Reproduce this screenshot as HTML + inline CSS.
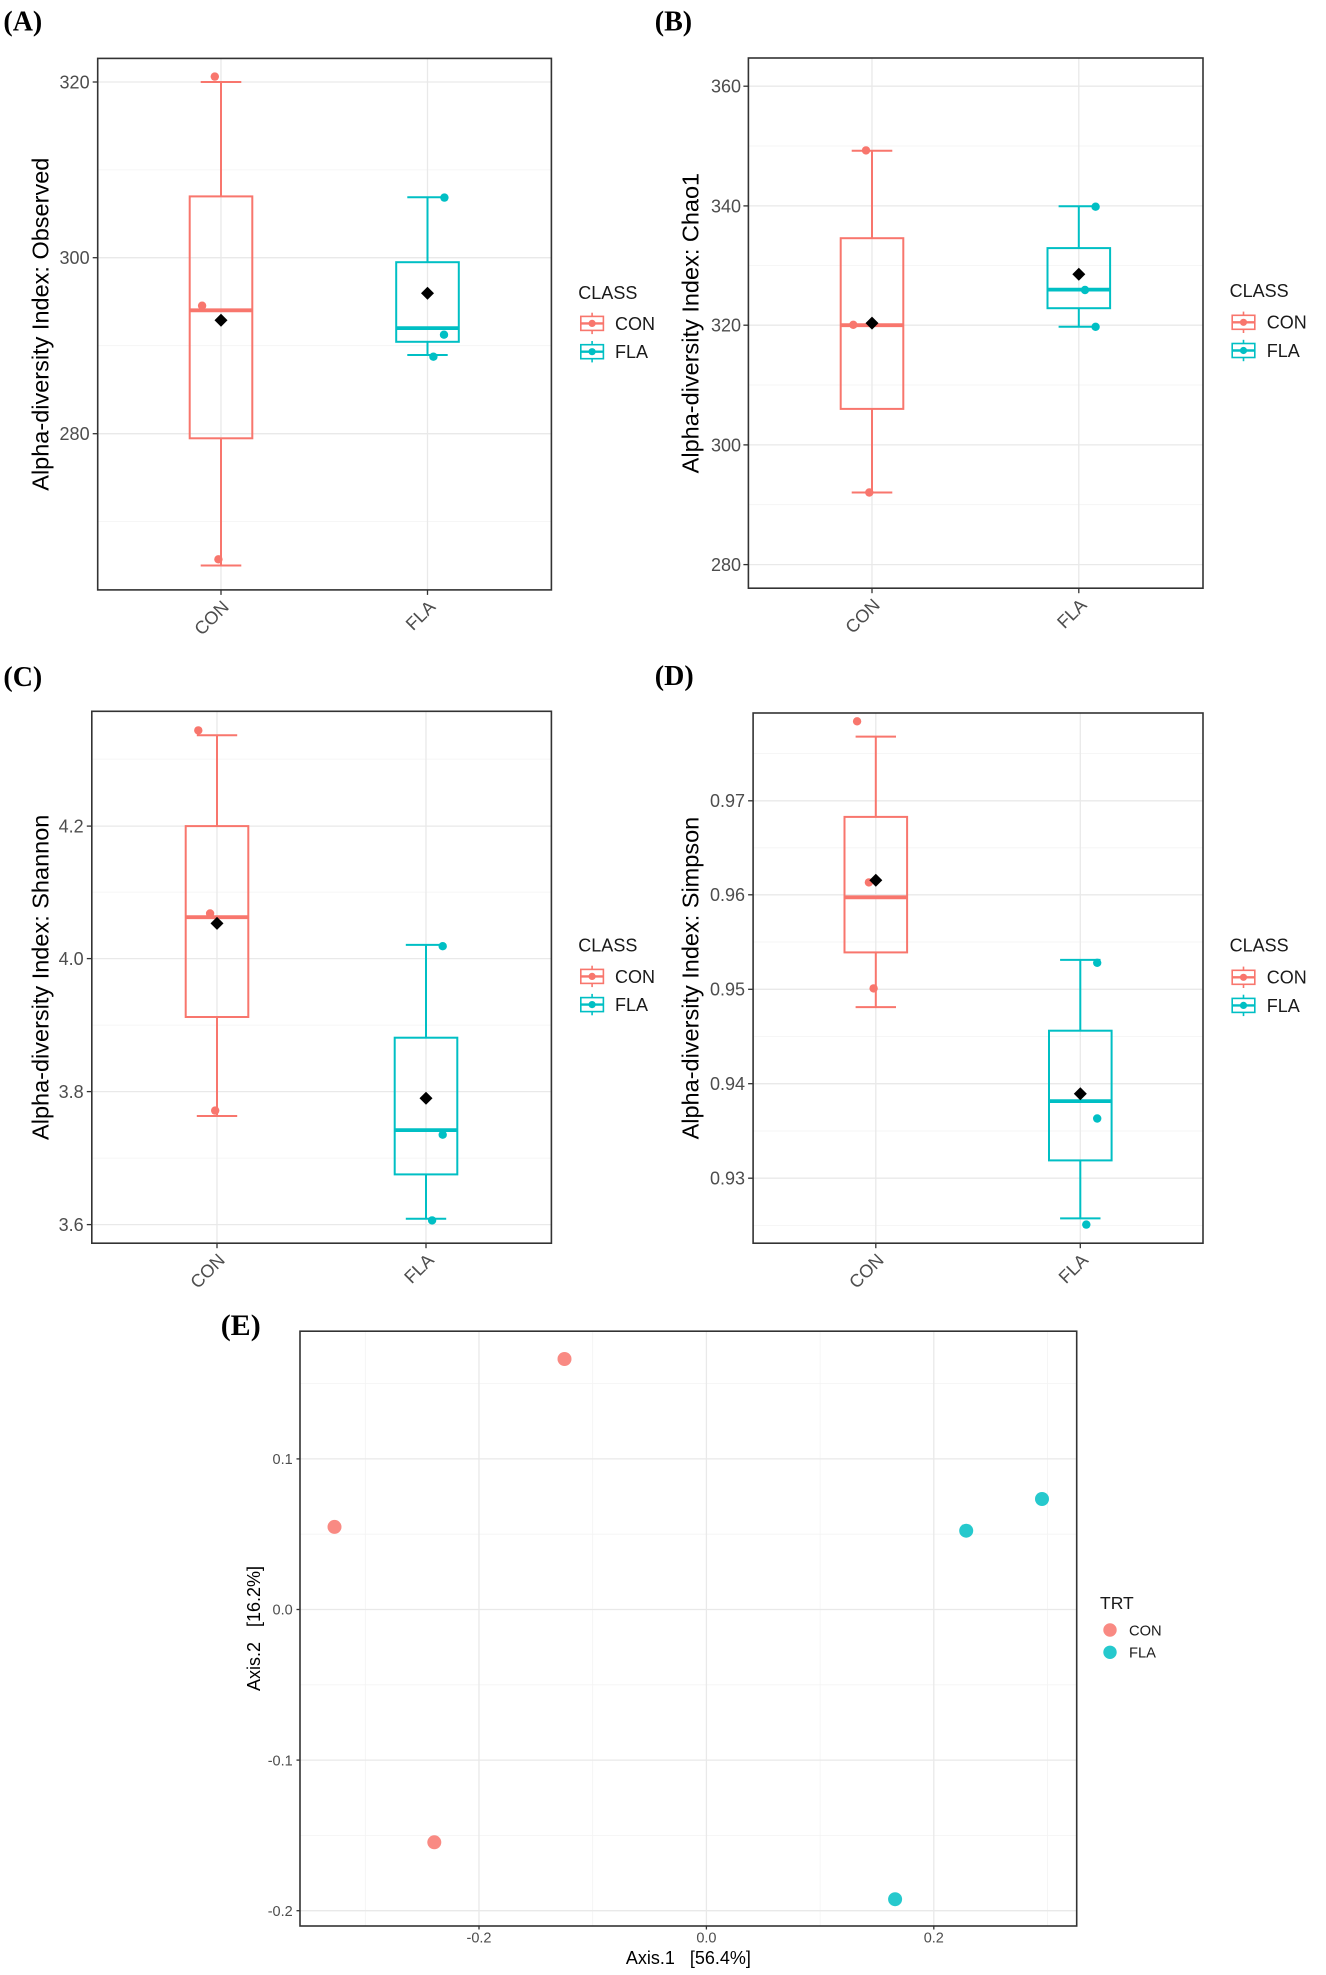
<!DOCTYPE html>
<html><head><meta charset="utf-8">
<style>
html,body{margin:0;padding:0;background:#fff;}
svg{display:block;}
text{font-family:"Liberation Sans",Arial,sans-serif;}
.lab{font-family:"Liberation Serif","Times New Roman",serif;font-weight:bold;font-size:28px;fill:#000;}
.tk{font-size:18px;fill:#4d4d4d;}
.tt{font-size:23.5px;fill:#000;}
.lg{font-size:18px;fill:#1a1a1a;}
.gmaj{stroke:#e9e9e9;stroke-width:1.3;}
.gmin{stroke:#f3f3f3;stroke-width:0.8;}
.bd{fill:none;stroke:#333;stroke-width:1.6;}
.tick{stroke:#333;stroke-width:1.3;}
.con{stroke:#F8766D;fill:none;stroke-width:2;}
.fla{stroke:#00BFC4;fill:none;stroke-width:2;}
.med{stroke-width:3.8;}
.tke{font-size:14.5px;fill:#4d4d4d;}
.tte{font-size:18px;fill:#000;white-space:pre;}
</style></head>
<body>
<svg width="1326" height="1975" viewBox="0 0 1326 1975" xmlns="http://www.w3.org/2000/svg">
<rect width="1326" height="1975" fill="#fff"/>

<!-- ================= PANEL A ================= -->
<text class="lab" x="3.4" y="30.5">(A)</text>
<g>
<line class="gmin" x1="97.7" x2="551.4" y1="169.85" y2="169.85"/>
<line class="gmin" x1="97.7" x2="551.4" y1="345.7" y2="345.7"/>
<line class="gmin" x1="97.7" x2="551.4" y1="521.6" y2="521.6"/>
<line class="gmaj" x1="97.7" x2="551.4" y1="82" y2="82"/>
<line class="gmaj" x1="97.7" x2="551.4" y1="257.7" y2="257.7"/>
<line class="gmaj" x1="97.7" x2="551.4" y1="433.7" y2="433.7"/>
<line class="gmaj" x1="221" x2="221" y1="58.4" y2="589.9"/>
<line class="gmaj" x1="427.5" x2="427.5" y1="58.4" y2="589.9"/>
<!-- CON -->
<line class="con" x1="221" x2="221" y1="82" y2="196.4"/>
<line class="con" x1="221" x2="221" y1="438.3" y2="565.5"/>
<line class="con" x1="200.7" x2="241.3" y1="82" y2="82"/>
<line class="con" x1="200.7" x2="241.3" y1="565.5" y2="565.5"/>
<rect class="con" x="189.7" y="196.4" width="62.6" height="241.9"/>
<line class="con med" x1="189.7" x2="252.3" y1="310.3" y2="310.3"/>
<circle cx="214.8" cy="76.6" r="4.2" fill="#F8766D"/>
<circle cx="202.1" cy="305.7" r="4.2" fill="#F8766D"/>
<circle cx="218.4" cy="559.3" r="4.2" fill="#F8766D"/>
<polygon points="221,313.7 227.5,320.2 221,326.7 214.5,320.2" fill="#000"/>
<!-- FLA -->
<line class="fla" x1="427.5" x2="427.5" y1="197.2" y2="262.2"/>
<line class="fla" x1="427.5" x2="427.5" y1="341.8" y2="355"/>
<line class="fla" x1="407.3" x2="447.7" y1="197.2" y2="197.2"/>
<line class="fla" x1="407.3" x2="447.7" y1="355" y2="355"/>
<rect class="fla" x="396.2" y="262.2" width="62.6" height="79.6"/>
<line class="fla med" x1="396.2" x2="458.8" y1="328.1" y2="328.1"/>
<circle cx="444.4" cy="197.6" r="4.2" fill="#00BFC4"/>
<circle cx="444" cy="334.7" r="4.2" fill="#00BFC4"/>
<circle cx="433.4" cy="356.7" r="4.2" fill="#00BFC4"/>
<polygon points="427.5,286.8 434,293.3 427.5,299.8 421,293.3" fill="#000"/>
<rect class="bd" x="97.7" y="58.4" width="453.7" height="531.5"/>
<line class="tick" x1="92.7" x2="97.7" y1="82" y2="82"/>
<line class="tick" x1="92.7" x2="97.7" y1="257.7" y2="257.7"/>
<line class="tick" x1="92.7" x2="97.7" y1="433.7" y2="433.7"/>
<line class="tick" x1="221" x2="221" y1="589.9" y2="594.9"/>
<line class="tick" x1="427.5" x2="427.5" y1="589.9" y2="594.9"/>
<text class="tk" x="89.6" y="88.4" text-anchor="end">320</text>
<text class="tk" x="89.6" y="264.1" text-anchor="end">300</text>
<text class="tk" x="89.6" y="440.1" text-anchor="end">280</text>
<text class="tk" text-anchor="end" transform="translate(230,608) rotate(-45)">CON</text>
<text class="tk" text-anchor="end" transform="translate(436.5,608) rotate(-45)">FLA</text>
<text class="tt" text-anchor="middle" transform="translate(48.3,324.2) rotate(-90)">Alpha-diversity Index: Observed</text>
<!-- legend -->
<text class="lg" x="578.3" y="299.1">CLASS</text>
<g>
<line x1="592.1" x2="592.1" y1="312.7" y2="334.1" stroke="#F8766D" stroke-width="1.6"/>
<rect x="580.8" y="316.4" width="22.6" height="14" fill="#fff" stroke="#F8766D" stroke-width="1.6"/>
<line x1="580.8" x2="603.4" y1="323.4" y2="323.4" stroke="#F8766D" stroke-width="2.4"/>
<circle cx="592.1" cy="323.4" r="3.6" fill="#F8766D"/>
</g>
<text class="lg" x="615" y="329.8">CON</text>
<g>
<line x1="592.1" x2="592.1" y1="341" y2="362.4" stroke="#00BFC4" stroke-width="1.6"/>
<rect x="580.8" y="344.7" width="22.6" height="14" fill="#fff" stroke="#00BFC4" stroke-width="1.6"/>
<line x1="580.8" x2="603.4" y1="351.7" y2="351.7" stroke="#00BFC4" stroke-width="2.4"/>
<circle cx="592.1" cy="351.7" r="3.6" fill="#00BFC4"/>
</g>
<text class="lg" x="615" y="358.1">FLA</text>
</g>

<!-- ================= PANEL B ================= -->
<text class="lab" x="654.8" y="30.5">(B)</text>
<g>
<line class="gmin" x1="748.4" x2="1203" y1="146" y2="146"/>
<line class="gmin" x1="748.4" x2="1203" y1="265.5" y2="265.5"/>
<line class="gmin" x1="748.4" x2="1203" y1="385" y2="385"/>
<line class="gmin" x1="748.4" x2="1203" y1="504.7" y2="504.7"/>
<line class="gmaj" x1="748.4" x2="1203" y1="86.2" y2="86.2"/>
<line class="gmaj" x1="748.4" x2="1203" y1="205.9" y2="205.9"/>
<line class="gmaj" x1="748.4" x2="1203" y1="325.2" y2="325.2"/>
<line class="gmaj" x1="748.4" x2="1203" y1="444.9" y2="444.9"/>
<line class="gmaj" x1="748.4" x2="1203" y1="564.6" y2="564.6"/>
<line class="gmaj" x1="872" x2="872" y1="58" y2="588.2"/>
<line class="gmaj" x1="1078.8" x2="1078.8" y1="58" y2="588.2"/>
<!-- CON -->
<line class="con" x1="872" x2="872" y1="150.8" y2="238.2"/>
<line class="con" x1="872" x2="872" y1="408.9" y2="492.5"/>
<line class="con" x1="851.7" x2="892.3" y1="150.8" y2="150.8"/>
<line class="con" x1="851.7" x2="892.3" y1="492.5" y2="492.5"/>
<rect class="con" x="840.7" y="238.2" width="62.6" height="170.7"/>
<line class="con med" x1="840.7" x2="903.3" y1="325.2" y2="325.2"/>
<circle cx="866" cy="150.4" r="4.2" fill="#F8766D"/>
<circle cx="853.3" cy="324.8" r="4.2" fill="#F8766D"/>
<circle cx="869.3" cy="492.5" r="4.2" fill="#F8766D"/>
<polygon points="872,316.6 878.5,323.1 872,329.6 865.5,323.1" fill="#000"/>
<!-- FLA -->
<line class="fla" x1="1078.8" x2="1078.8" y1="206.3" y2="248.1"/>
<line class="fla" x1="1078.8" x2="1078.8" y1="308.2" y2="326.8"/>
<line class="fla" x1="1058.6" x2="1099" y1="206.3" y2="206.3"/>
<line class="fla" x1="1058.6" x2="1099" y1="326.8" y2="326.8"/>
<rect class="fla" x="1047.5" y="248.1" width="62.6" height="60.1"/>
<line class="fla med" x1="1047.5" x2="1110.1" y1="289.6" y2="289.6"/>
<circle cx="1095.6" cy="206.7" r="4.2" fill="#00BFC4"/>
<circle cx="1085" cy="290" r="4.2" fill="#00BFC4"/>
<circle cx="1095.6" cy="326.8" r="4.2" fill="#00BFC4"/>
<polygon points="1078.8,267.7 1085.3,274.2 1078.8,280.7 1072.3,274.2" fill="#000"/>
<rect class="bd" x="748.4" y="58" width="454.6" height="530.2"/>
<line class="tick" x1="743.4" x2="748.4" y1="86.2" y2="86.2"/>
<line class="tick" x1="743.4" x2="748.4" y1="205.9" y2="205.9"/>
<line class="tick" x1="743.4" x2="748.4" y1="325.2" y2="325.2"/>
<line class="tick" x1="743.4" x2="748.4" y1="444.9" y2="444.9"/>
<line class="tick" x1="743.4" x2="748.4" y1="564.6" y2="564.6"/>
<line class="tick" x1="872" x2="872" y1="588.2" y2="593.2"/>
<line class="tick" x1="1078.8" x2="1078.8" y1="588.2" y2="593.2"/>
<text class="tk" x="741" y="92.6" text-anchor="end">360</text>
<text class="tk" x="741" y="212.3" text-anchor="end">340</text>
<text class="tk" x="741" y="331.6" text-anchor="end">320</text>
<text class="tk" x="741" y="451.3" text-anchor="end">300</text>
<text class="tk" x="741" y="571" text-anchor="end">280</text>
<text class="tk" text-anchor="end" transform="translate(881,606.2) rotate(-45)">CON</text>
<text class="tk" text-anchor="end" transform="translate(1087.8,606.2) rotate(-45)">FLA</text>
<text class="tt" text-anchor="middle" transform="translate(698.6,323.1) rotate(-90)">Alpha-diversity Index: Chao1</text>
<text class="lg" x="1229.6" y="297.2">CLASS</text>
<g>
<line x1="1243.5" x2="1243.5" y1="311.6" y2="333" stroke="#F8766D" stroke-width="1.6"/>
<rect x="1232.2" y="315.3" width="22.6" height="14" fill="#fff" stroke="#F8766D" stroke-width="1.6"/>
<line x1="1232.2" x2="1254.8" y1="322.3" y2="322.3" stroke="#F8766D" stroke-width="2.4"/>
<circle cx="1243.5" cy="322.3" r="3.6" fill="#F8766D"/>
</g>
<text class="lg" x="1266.8" y="328.7">CON</text>
<g>
<line x1="1243.5" x2="1243.5" y1="339.8" y2="361.2" stroke="#00BFC4" stroke-width="1.6"/>
<rect x="1232.2" y="343.5" width="22.6" height="14" fill="#fff" stroke="#00BFC4" stroke-width="1.6"/>
<line x1="1232.2" x2="1254.8" y1="350.5" y2="350.5" stroke="#00BFC4" stroke-width="2.4"/>
<circle cx="1243.5" cy="350.5" r="3.6" fill="#00BFC4"/>
</g>
<text class="lg" x="1266.8" y="356.9">FLA</text>
</g>

<!-- ================= PANEL C ================= -->
<text class="lab" x="3.4" y="686">(C)</text>
<g>
<line class="gmin" x1="91.8" x2="551.4" y1="759.1" y2="759.1"/>
<line class="gmin" x1="91.8" x2="551.4" y1="892.1" y2="892.1"/>
<line class="gmin" x1="91.8" x2="551.4" y1="1025.1" y2="1025.1"/>
<line class="gmin" x1="91.8" x2="551.4" y1="1158.1" y2="1158.1"/>
<line class="gmaj" x1="91.8" x2="551.4" y1="826.1" y2="826.1"/>
<line class="gmaj" x1="91.8" x2="551.4" y1="958.6" y2="958.6"/>
<line class="gmaj" x1="91.8" x2="551.4" y1="1091.6" y2="1091.6"/>
<line class="gmaj" x1="91.8" x2="551.4" y1="1224.6" y2="1224.6"/>
<line class="gmaj" x1="217" x2="217" y1="711.3" y2="1243.2"/>
<line class="gmaj" x1="426" x2="426" y1="711.3" y2="1243.2"/>
<!-- CON -->
<line class="con" x1="217" x2="217" y1="735.3" y2="826.1"/>
<line class="con" x1="217" x2="217" y1="1017" y2="1116"/>
<line class="con" x1="196.8" x2="237.2" y1="735.3" y2="735.3"/>
<line class="con" x1="196.8" x2="237.2" y1="1116" y2="1116"/>
<rect class="con" x="185.7" y="826.1" width="62.6" height="190.9"/>
<line class="con med" x1="185.7" x2="248.3" y1="917.2" y2="917.2"/>
<circle cx="198.3" cy="730.4" r="4.2" fill="#F8766D"/>
<circle cx="210.1" cy="913.5" r="4.2" fill="#F8766D"/>
<circle cx="215.2" cy="1110.6" r="4.2" fill="#F8766D"/>
<polygon points="217,916.9 223.5,923.4 217,929.9 210.5,923.4" fill="#000"/>
<!-- FLA -->
<line class="fla" x1="426" x2="426" y1="944.9" y2="1037.7"/>
<line class="fla" x1="426" x2="426" y1="1174.4" y2="1218.8"/>
<line class="fla" x1="405.8" x2="446.2" y1="944.9" y2="944.9"/>
<line class="fla" x1="405.8" x2="446.2" y1="1218.8" y2="1218.8"/>
<rect class="fla" x="394.7" y="1037.7" width="62.6" height="136.7"/>
<line class="fla med" x1="394.7" x2="457.3" y1="1130.1" y2="1130.1"/>
<circle cx="442.7" cy="946.2" r="4.2" fill="#00BFC4"/>
<circle cx="442.7" cy="1134.7" r="4.2" fill="#00BFC4"/>
<circle cx="432.1" cy="1220.4" r="4.2" fill="#00BFC4"/>
<polygon points="426,1091.7 432.5,1098.2 426,1104.7 419.5,1098.2" fill="#000"/>
<rect class="bd" x="91.8" y="711.3" width="459.6" height="531.9"/>
<line class="tick" x1="86.8" x2="91.8" y1="826.1" y2="826.1"/>
<line class="tick" x1="86.8" x2="91.8" y1="958.6" y2="958.6"/>
<line class="tick" x1="86.8" x2="91.8" y1="1091.6" y2="1091.6"/>
<line class="tick" x1="86.8" x2="91.8" y1="1224.6" y2="1224.6"/>
<line class="tick" x1="217" x2="217" y1="1243.2" y2="1248.2"/>
<line class="tick" x1="426" x2="426" y1="1243.2" y2="1248.2"/>
<text class="tk" x="83.7" y="832.5" text-anchor="end">4.2</text>
<text class="tk" x="83.7" y="965" text-anchor="end">4.0</text>
<text class="tk" x="83.7" y="1098" text-anchor="end">3.8</text>
<text class="tk" x="83.7" y="1231" text-anchor="end">3.6</text>
<text class="tk" text-anchor="end" transform="translate(226,1261.2) rotate(-45)">CON</text>
<text class="tk" text-anchor="end" transform="translate(435,1261.2) rotate(-45)">FLA</text>
<text class="tt" text-anchor="middle" transform="translate(48.3,977.3) rotate(-90)">Alpha-diversity Index: Shannon</text>
<text class="lg" x="578.3" y="951.4">CLASS</text>
<g>
<line x1="592.1" x2="592.1" y1="965.7" y2="987.1" stroke="#F8766D" stroke-width="1.6"/>
<rect x="580.8" y="969.4" width="22.6" height="14" fill="#fff" stroke="#F8766D" stroke-width="1.6"/>
<line x1="580.8" x2="603.4" y1="976.4" y2="976.4" stroke="#F8766D" stroke-width="2.4"/>
<circle cx="592.1" cy="976.4" r="3.6" fill="#F8766D"/>
</g>
<text class="lg" x="615" y="982.8">CON</text>
<g>
<line x1="592.1" x2="592.1" y1="993.9" y2="1015.3" stroke="#00BFC4" stroke-width="1.6"/>
<rect x="580.8" y="997.6" width="22.6" height="14" fill="#fff" stroke="#00BFC4" stroke-width="1.6"/>
<line x1="580.8" x2="603.4" y1="1004.6" y2="1004.6" stroke="#00BFC4" stroke-width="2.4"/>
<circle cx="592.1" cy="1004.6" r="3.6" fill="#00BFC4"/>
</g>
<text class="lg" x="615" y="1011">FLA</text>
</g>

<!-- ================= PANEL D ================= -->
<text class="lab" x="654.8" y="685">(D)</text>
<g>
<line class="gmin" x1="753.1" x2="1203" y1="753.6" y2="753.6"/>
<line class="gmin" x1="753.1" x2="1203" y1="847.8" y2="847.8"/>
<line class="gmin" x1="753.1" x2="1203" y1="942" y2="942"/>
<line class="gmin" x1="753.1" x2="1203" y1="1036.5" y2="1036.5"/>
<line class="gmin" x1="753.1" x2="1203" y1="1131" y2="1131"/>
<line class="gmin" x1="753.1" x2="1203" y1="1225.4" y2="1225.4"/>
<line class="gmaj" x1="753.1" x2="1203" y1="800.8" y2="800.8"/>
<line class="gmaj" x1="753.1" x2="1203" y1="894.8" y2="894.8"/>
<line class="gmaj" x1="753.1" x2="1203" y1="989.3" y2="989.3"/>
<line class="gmaj" x1="753.1" x2="1203" y1="1083.7" y2="1083.7"/>
<line class="gmaj" x1="753.1" x2="1203" y1="1178.2" y2="1178.2"/>
<line class="gmaj" x1="875.8" x2="875.8" y1="713" y2="1243.2"/>
<line class="gmaj" x1="1080.3" x2="1080.3" y1="713" y2="1243.2"/>
<!-- CON -->
<line class="con" x1="875.8" x2="875.8" y1="736.6" y2="816.9"/>
<line class="con" x1="875.8" x2="875.8" y1="952.4" y2="1007.1"/>
<line class="con" x1="855.6" x2="896" y1="736.6" y2="736.6"/>
<line class="con" x1="855.6" x2="896" y1="1007.1" y2="1007.1"/>
<rect class="con" x="844.5" y="816.9" width="62.6" height="135.5"/>
<line class="con med" x1="844.5" x2="907.1" y1="897.3" y2="897.3"/>
<circle cx="857.1" cy="721.3" r="4.2" fill="#F8766D"/>
<circle cx="868.9" cy="882.4" r="4.2" fill="#F8766D"/>
<circle cx="873.6" cy="988.4" r="4.2" fill="#F8766D"/>
<polygon points="875.8,873.8 882.3,880.3 875.8,886.8 869.3,880.3" fill="#000"/>
<!-- FLA -->
<line class="fla" x1="1080.3" x2="1080.3" y1="959.9" y2="1030.7"/>
<line class="fla" x1="1080.3" x2="1080.3" y1="1160.4" y2="1218.4"/>
<line class="fla" x1="1060.1" x2="1100.5" y1="959.9" y2="959.9"/>
<line class="fla" x1="1060.1" x2="1100.5" y1="1218.4" y2="1218.4"/>
<rect class="fla" x="1049" y="1030.7" width="62.6" height="129.7"/>
<line class="fla med" x1="1049" x2="1111.6" y1="1101.1" y2="1101.1"/>
<circle cx="1097.2" cy="962.8" r="4.2" fill="#00BFC4"/>
<circle cx="1097.2" cy="1118.5" r="4.2" fill="#00BFC4"/>
<circle cx="1086.3" cy="1224.6" r="4.2" fill="#00BFC4"/>
<polygon points="1080.3,1087.2 1086.8,1093.7 1080.3,1100.2 1073.8,1093.7" fill="#000"/>
<rect class="bd" x="753.1" y="713" width="449.9" height="530.2"/>
<line class="tick" x1="748.1" x2="753.1" y1="800.8" y2="800.8"/>
<line class="tick" x1="748.1" x2="753.1" y1="894.8" y2="894.8"/>
<line class="tick" x1="748.1" x2="753.1" y1="989.3" y2="989.3"/>
<line class="tick" x1="748.1" x2="753.1" y1="1083.7" y2="1083.7"/>
<line class="tick" x1="748.1" x2="753.1" y1="1178.2" y2="1178.2"/>
<line class="tick" x1="875.8" x2="875.8" y1="1243.2" y2="1248.2"/>
<line class="tick" x1="1080.3" x2="1080.3" y1="1243.2" y2="1248.2"/>
<text class="tk" x="745" y="807.2" text-anchor="end">0.97</text>
<text class="tk" x="745" y="901.2" text-anchor="end">0.96</text>
<text class="tk" x="745" y="995.7" text-anchor="end">0.95</text>
<text class="tk" x="745" y="1090.1" text-anchor="end">0.94</text>
<text class="tk" x="745" y="1184.6" text-anchor="end">0.93</text>
<text class="tk" text-anchor="end" transform="translate(884.8,1261.2) rotate(-45)">CON</text>
<text class="tk" text-anchor="end" transform="translate(1089.3,1261.2) rotate(-45)">FLA</text>
<text class="tt" text-anchor="middle" transform="translate(698.6,978.1) rotate(-90)">Alpha-diversity Index: Simpson</text>
<text class="lg" x="1229.6" y="951.4">CLASS</text>
<g>
<line x1="1243.5" x2="1243.5" y1="966.6" y2="988" stroke="#F8766D" stroke-width="1.6"/>
<rect x="1232.2" y="970.3" width="22.6" height="14" fill="#fff" stroke="#F8766D" stroke-width="1.6"/>
<line x1="1232.2" x2="1254.8" y1="977.3" y2="977.3" stroke="#F8766D" stroke-width="2.4"/>
<circle cx="1243.5" cy="977.3" r="3.6" fill="#F8766D"/>
</g>
<text class="lg" x="1266.8" y="983.7">CON</text>
<g>
<line x1="1243.5" x2="1243.5" y1="994.7" y2="1016.1" stroke="#00BFC4" stroke-width="1.6"/>
<rect x="1232.2" y="998.4" width="22.6" height="14" fill="#fff" stroke="#00BFC4" stroke-width="1.6"/>
<line x1="1232.2" x2="1254.8" y1="1005.4" y2="1005.4" stroke="#00BFC4" stroke-width="2.4"/>
<circle cx="1243.5" cy="1005.4" r="3.6" fill="#00BFC4"/>
</g>
<text class="lg" x="1266.8" y="1011.8">FLA</text>
</g>

<!-- ================= PANEL E ================= -->
<text class="lab" x="220.7" y="1335" style="font-size:30px">(E)</text>
<g>
<line class="gmin" x1="300" x2="1076.7" y1="1383.6" y2="1383.6"/>
<line class="gmin" x1="300" x2="1076.7" y1="1534.2" y2="1534.2"/>
<line class="gmin" x1="300" x2="1076.7" y1="1684.8" y2="1684.8"/>
<line class="gmin" x1="300" x2="1076.7" y1="1835.4" y2="1835.4"/>
<line class="gmin" x1="365.3" x2="365.3" y1="1331.2" y2="1926"/>
<line class="gmin" x1="592.7" x2="592.7" y1="1331.2" y2="1926"/>
<line class="gmin" x1="820.1" x2="820.1" y1="1331.2" y2="1926"/>
<line class="gmin" x1="1047.5" x2="1047.5" y1="1331.2" y2="1926"/>
<line class="gmaj" x1="300" x2="1076.7" y1="1458.9" y2="1458.9"/>
<line class="gmaj" x1="300" x2="1076.7" y1="1609.5" y2="1609.5"/>
<line class="gmaj" x1="300" x2="1076.7" y1="1760.1" y2="1760.1"/>
<line class="gmaj" x1="300" x2="1076.7" y1="1910.7" y2="1910.7"/>
<line class="gmaj" x1="479" x2="479" y1="1331.2" y2="1926"/>
<line class="gmaj" x1="706.4" x2="706.4" y1="1331.2" y2="1926"/>
<line class="gmaj" x1="933.8" x2="933.8" y1="1331.2" y2="1926"/>
<g fill="#F8766D" fill-opacity="0.85">
<circle cx="564.5" cy="1359" r="7"/>
<circle cx="334.5" cy="1526.9" r="7"/>
<circle cx="434.3" cy="1842.3" r="7"/>
</g>
<g fill="#00BFC4" fill-opacity="0.85">
<circle cx="1042" cy="1499" r="7"/>
<circle cx="966.2" cy="1530.7" r="7"/>
<circle cx="895.1" cy="1899.2" r="7"/>
</g>
<rect class="bd" x="300" y="1331.2" width="776.7" height="594.8"/>
<line class="tick" x1="296.5" x2="300" y1="1458.9" y2="1458.9"/>
<line class="tick" x1="296.5" x2="300" y1="1609.5" y2="1609.5"/>
<line class="tick" x1="296.5" x2="300" y1="1760.1" y2="1760.1"/>
<line class="tick" x1="296.5" x2="300" y1="1910.7" y2="1910.7"/>
<line class="tick" x1="479" x2="479" y1="1926" y2="1929.5"/>
<line class="tick" x1="706.4" x2="706.4" y1="1926" y2="1929.5"/>
<line class="tick" x1="933.8" x2="933.8" y1="1926" y2="1929.5"/>
<text class="tke" x="292.7" y="1464.1" text-anchor="end">0.1</text>
<text class="tke" x="292.7" y="1614.7" text-anchor="end">0.0</text>
<text class="tke" x="292.7" y="1765.3" text-anchor="end">-0.1</text>
<text class="tke" x="292.7" y="1915.9" text-anchor="end">-0.2</text>
<text class="tke" x="479" y="1942.5" text-anchor="middle">-0.2</text>
<text class="tke" x="706.4" y="1942.5" text-anchor="middle">0.0</text>
<text class="tke" x="933.8" y="1942.5" text-anchor="middle">0.2</text>
<text class="tte" x="688.4" y="1964" text-anchor="middle">Axis.1   [56.4%]</text>
<text class="tte" text-anchor="middle" transform="translate(260,1628.5) rotate(-90)">Axis.2   [16.2%]</text>
<text x="1100" y="1609" style="font-size:17.5px;fill:#1a1a1a">TRT</text>
<circle cx="1110" cy="1630" r="6.7" fill="#F8766D" fill-opacity="0.85"/>
<circle cx="1110" cy="1652.3" r="6.7" fill="#00BFC4" fill-opacity="0.85"/>
<text x="1129" y="1635.3" style="font-size:14.7px;fill:#1a1a1a">CON</text>
<text x="1129" y="1657.6" style="font-size:14.7px;fill:#1a1a1a">FLA</text>
</g>
</svg>
</body></html>
